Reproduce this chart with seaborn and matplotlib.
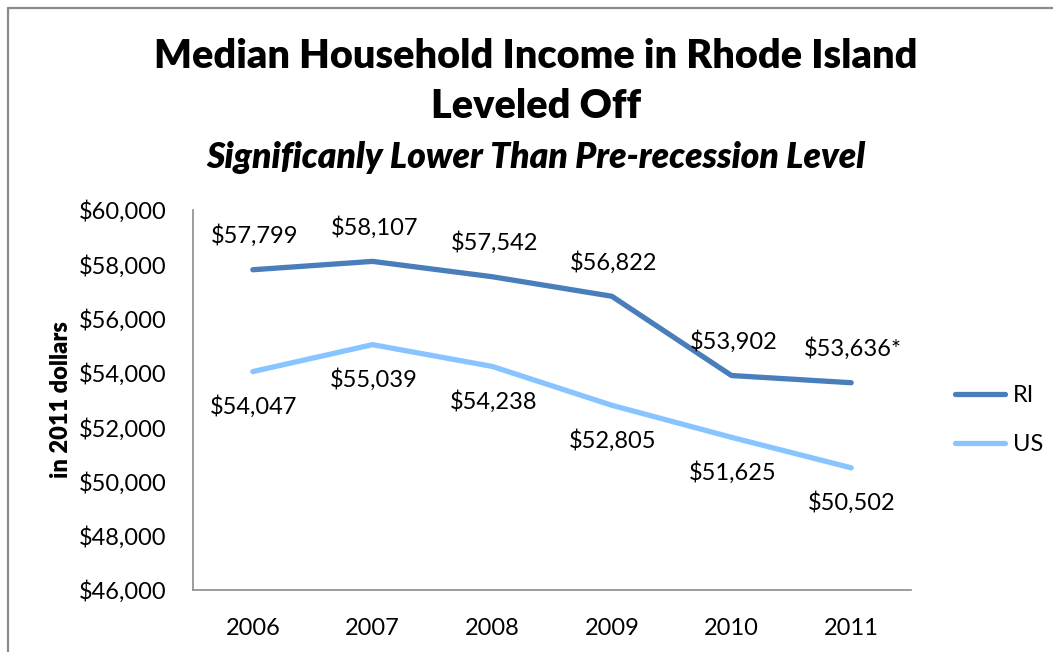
import matplotlib
matplotlib.use("Agg")
import matplotlib.pyplot as plt
import seaborn as sns
import pandas as pd
from matplotlib.lines import Line2D
from matplotlib.ticker import FuncFormatter

years = ["2006", "2007", "2008", "2009", "2010", "2011"]
ri_values = [57799, 58107, 57542, 56822, 53902, 53636]
us_values = [54047, 55039, 54238, 52805, 51625, 50502]
ri_labels = ["$57,799", "$58,107", "$57,542", "$56,822", "$53,902", "$53,636*"]
us_labels = ["$54,047", "$55,039", "$54,238", "$52,805", "$51,625", "$50,502"]
y_ticks = [46000, 48000, 50000, 52000, 54000, 56000, 58000, 60000]
series_names = ["RI", "US"]

df = pd.DataFrame({
    "year": years * 2,
    "income": ri_values + us_values,
    "series": [series_names[0]] * len(years) + [series_names[1]] * len(years),
})

sns.set_theme(style="white")
plt.rcParams["font.family"] = ["Lato", "DejaVu Sans"]
plt.rcParams["text.color"] = "black"
plt.rcParams["axes.labelcolor"] = "black"
plt.rcParams["xtick.color"] = "black"
plt.rcParams["ytick.color"] = "black"

W, H = 1053, 652
fig = plt.figure(figsize=(W / 100, H / 100), dpi=100)
ax = fig.add_axes([193 / W, 1 - 590 / H, (911 - 193) / W, (590 - 210) / H])

palette = {"RI": "#4a7ebb", "US": "#88c4ff"}
sns.lineplot(data=df, x="year", y="income", hue="series", palette=palette,
             linewidth=3.8, ax=ax, legend=False, sort=False)
for ln in ax.get_lines():
    ln.set_solid_capstyle("round")
    ln.set_solid_joinstyle("round")

ax.set_ylim(46000, 60000)
ax.set_xlim(-0.5, len(years) - 0.5)
ax.set_yticks(y_ticks)
ax.yaxis.set_major_formatter(FuncFormatter(lambda v, p: f"${v:,.0f}"))
ax.tick_params(axis="both", length=0, labelsize=17, colors="black")
ax.tick_params(axis="y", pad=19)
ax.tick_params(axis="x", pad=20)
ax.set_xlabel("")
ax.set_ylabel("in 2011 dollars", fontsize=17, fontweight="heavy", labelpad=5, color="black")

for s in ["top", "right"]:
    ax.spines[s].set_visible(False)
for s in ["left", "bottom"]:
    ax.spines[s].set_color("#8c8c8c")
    ax.spines[s].set_linewidth(1.2)

for i, (v, lab) in enumerate(zip(ri_values, ri_labels)):
    ax.annotate(lab, (i, v), xytext=(2, 34), textcoords="offset pixels",
                ha="center", va="center", fontsize=17, color="black", clip_on=False)
for i, (v, lab) in enumerate(zip(us_values, us_labels)):
    ax.annotate(lab, (i, v), xytext=(1, -35), textcoords="offset pixels",
                ha="center", va="center", fontsize=17, color="black", clip_on=False)

handles = [Line2D([0], [0], color=palette[n], lw=3.8, solid_capstyle="round") for n in series_names]
fig.legend(handles, series_names, loc="center left",
           bbox_to_anchor=(934 / W, 1 - 420 / H), frameon=False, fontsize=17,
           handlelength=2.1, handletextpad=0.35, labelspacing=1.2)

fig.text(536 / W, 1 - 56 / H, "Median Household Income in Rhode Island",
         ha="center", va="center", fontsize=28.5, fontweight="heavy", color="black")
fig.text(536 / W, 1 - 107 / H, "Leveled Off",
         ha="center", va="center", fontsize=28.5, fontweight="heavy", color="black")
fig.text(536 / W, 1 - 158 / H, "Significanly Lower Than Pre-recession Level",
         ha="center", va="center", fontsize=25.5, fontweight="heavy", fontstyle="italic",
         color="black")

# chart frame (left and top edges visible)
fig.add_artist(Line2D([8 / W, 8 / W], [0, 1 - 8 / H], transform=fig.transFigure,
                      color="#8a8a8a", lw=1.6))
fig.add_artist(Line2D([8 / W, 1], [1 - 8 / H, 1 - 8 / H], transform=fig.transFigure,
                      color="#8a8a8a", lw=1.6))

fig.savefig("out.png", dpi=100)
